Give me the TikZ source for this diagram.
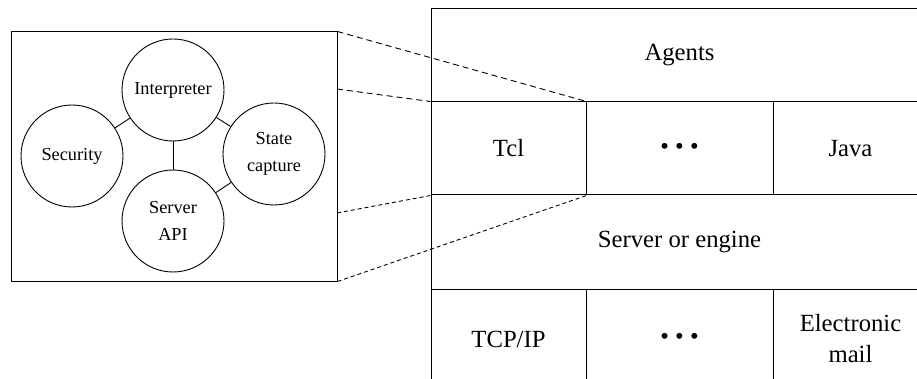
\documentclass[tikz,border=0pt]{standalone}
\usepackage{fontspec}
\setmainfont{Liberation Serif}
\begin{document}
\begin{tikzpicture}[x=1pt,y=-1pt,
  panelbox/.style={draw, line width=1pt, minimum width=326pt, minimum height=249pt, inner sep=0pt},
  comp/.style={draw, circle, line width=0.9pt, minimum size=102pt, inner sep=0pt, align=center,
    font=\fontsize{18.3}{27}\selectfont},
  cell/.style={draw, line width=1pt, inner sep=0pt, align=center, minimum height=93pt,
    font=\fontsize{24.7}{31}\selectfont},
  narrow/.style={cell, minimum width=155pt},
  mid/.style={cell, minimum width=187pt},
  wide/.style={cell, minimum width=497pt},
  link/.style={line width=0.9pt},
  zoomline/.style={line width=0.9pt, dash pattern=on 6pt off 4pt},
  zoomlineb/.style={line width=0.9pt, dash pattern=on 4pt off 3pt}
]
\useasboundingbox (0,0) rectangle (917,379);
\clip (0,0) rectangle (917,379);
% left detail panel
\node[panelbox] (panel) at (174,156.5) {};
\node[comp] (interp) at (173,90) {Interpreter};
\node[comp] (secur) at (72,156) {Security};
\node[comp] (state) at (274,154) {State\\capture};
\node[comp] (api) at (173,221) {Server\\API};
\draw[link] (interp) -- (secur);
\draw[link] (interp) -- (state);
\draw[link] (interp) -- (api);
\draw[link] (api) -- (state);
% right stack
\node[wide] (agents) at (679.5,55.5) {Agents};
\node[narrow] (tcl) at (508.5,148.5) {Tcl};
\node[mid] (dotsa) at (679.5,148.5) {• • •};
\node[narrow] (java) at (850.5,148.5) {Java};
\node[wide, minimum height=94pt] (server) at (679.5,242) {Server or engine};
\node[narrow, minimum height=100pt] (tcp) at (508.5,339) {TCP/IP};
\node[mid, minimum height=100pt] (dotsb) at (679.5,339) {• • •};
\node[narrow, minimum height=100pt] (mail) at (850.5,339) {Electronic\\mail};
% zoom connectors
\coordinate (pa) at (337,89);
\coordinate (pb) at (337,213);
\draw[zoomline] (panel.north east) -- (tcl.north east);
\draw[zoomline] (pa) -- (tcl.north west);
\draw[zoomlineb] (pb) -- (tcl.south west);
\draw[zoomlineb] (panel.south east) -- (tcl.south east);
\end{tikzpicture}
\end{document}
